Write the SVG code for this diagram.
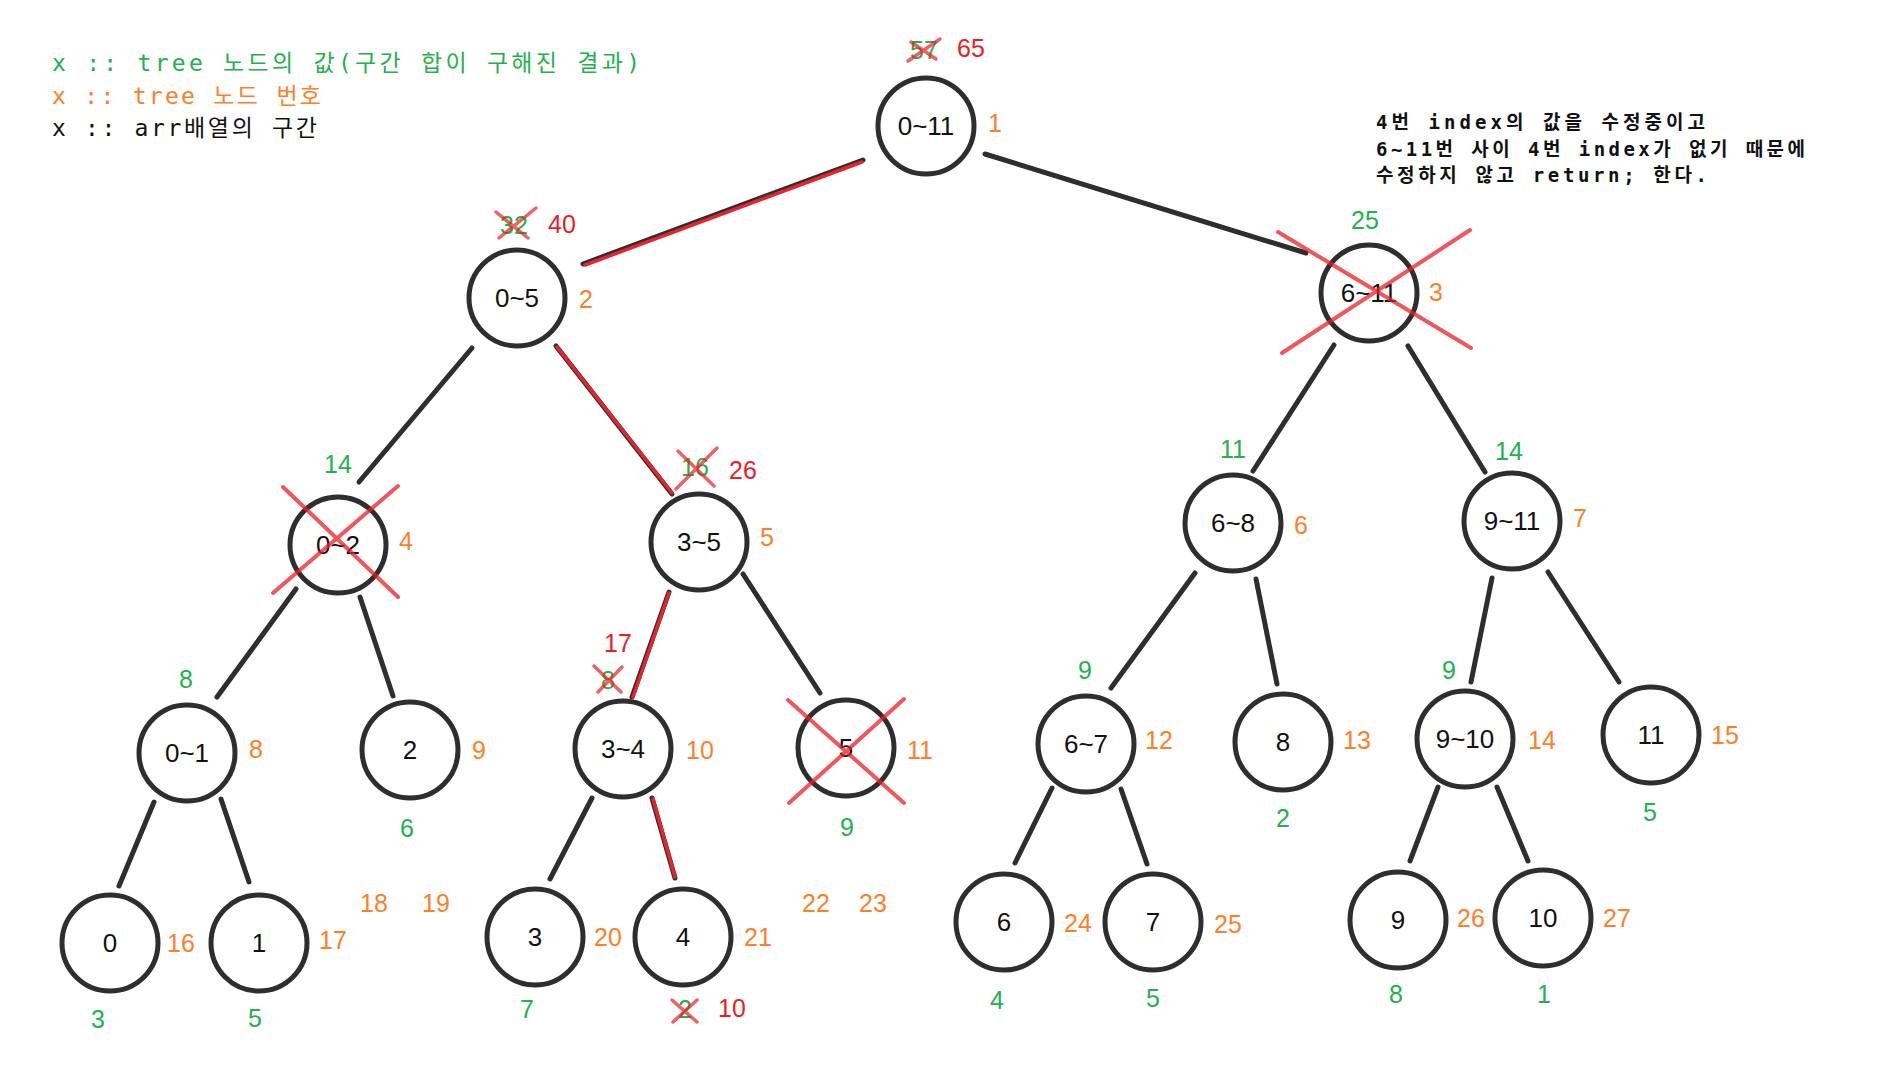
<svg xmlns="http://www.w3.org/2000/svg" width="1884" height="1082" viewBox="0 0 1884 1082">
<style>
  .bg{fill:#ffffff}
  .edge{stroke:#2e2e2e;stroke-width:5;stroke-linecap:round;fill:none}
  .hl{stroke:#e8232c;stroke-width:3.5;stroke-linecap:round;fill:none}
  .circ{fill:#ffffff;stroke:#2e2e2e;stroke-width:5}
  .nt{font-family:"Liberation Sans","Noto Sans CJK KR",sans-serif;font-size:26px;fill:#111;text-anchor:middle}
  .lb{font-family:"Liberation Sans","Noto Sans CJK KR",sans-serif;font-size:25px;text-anchor:middle}
  .g{fill:#22b14c}
  .o{fill:#ff7f27}
  .r{fill:#ed1c24}
  .x{stroke:#ed1c24;stroke-width:4;stroke-opacity:0.75;stroke-linecap:round;fill:none}
  .xs{stroke:#ed1c24;stroke-width:3.5;stroke-opacity:0.7;stroke-linecap:round;fill:none}
  .leg{font-family:"DejaVu Sans Mono","Noto Sans CJK KR",monospace;font-size:23px}
  .note{font-family:"DejaVu Sans Mono","Noto Sans CJK KR",monospace;font-size:19px;font-weight:bold;fill:#111}
</style>
<rect class="bg" x="0" y="0" width="1884" height="1082"/>

<g id="legend">
  <text class="leg g" x="52" y="71" textLength="588" lengthAdjust="spacing">x :: tree 노드의 값(구간 합이 구해진 결과)</text>
  <text class="leg o" x="52" y="104" textLength="269" lengthAdjust="spacing">x :: tree 노드 번호</text>
  <text class="leg" x="52" y="136" fill="#111" textLength="265" lengthAdjust="spacing">x :: arr배열의 구간</text>
</g>

<g id="note">
  <text class="note" x="1376" y="129" textLength="329" lengthAdjust="spacing">4번 index의 값을 수정중이고</text>
  <text class="note" x="1376" y="156" textLength="429" lengthAdjust="spacing">6~11번 사이 4번 index가 없기 때문에</text>
  <text class="note" x="1376" y="182" textLength="331" lengthAdjust="spacing">수정하지 않고 return; 한다.</text>
</g>

<g id="connectors">
  <line class="edge" x1="583" y1="264" x2="863" y2="160"/>
  <line class="hl" x1="585" y1="265" x2="862" y2="162"/>
  <line class="edge" x1="985" y1="154" x2="1306" y2="253"/>
  <line class="edge" x1="472" y1="348" x2="359" y2="482"/>
  <line class="edge" x1="556" y1="346" x2="672" y2="494"/>
  <line class="hl" x1="557" y1="347" x2="672" y2="493"/>
  <line class="edge" x1="1334" y1="345" x2="1253" y2="471"/>
  <line class="edge" x1="1408" y1="346" x2="1485" y2="472"/>
  <line class="edge" x1="296" y1="589" x2="217" y2="697"/>
  <line class="edge" x1="360" y1="597" x2="393" y2="696"/>
  <line class="edge" x1="669" y1="592" x2="632" y2="697"/>
  <line class="hl" x1="669" y1="593" x2="633" y2="697"/>
  <line class="edge" x1="743" y1="574" x2="820" y2="693"/>
  <line class="edge" x1="1195" y1="573" x2="1111" y2="688"/>
  <line class="edge" x1="1256" y1="579" x2="1277" y2="684"/>
  <line class="edge" x1="1492" y1="578" x2="1471" y2="682"/>
  <line class="edge" x1="1548" y1="572" x2="1619" y2="682"/>
  <line class="edge" x1="154" y1="802" x2="119" y2="886"/>
  <line class="edge" x1="221" y1="799" x2="249" y2="882"/>
  <line class="edge" x1="592" y1="798" x2="550" y2="879"/>
  <line class="edge" x1="652" y1="798" x2="675" y2="878"/>
  <line class="hl" x1="653" y1="799" x2="675" y2="877"/>
  <line class="edge" x1="1052" y1="788" x2="1015" y2="863"/>
  <line class="edge" x1="1121" y1="789" x2="1147" y2="864"/>
  <line class="edge" x1="1438" y1="787" x2="1410" y2="861"/>
  <line class="edge" x1="1497" y1="787" x2="1528" y2="861"/>
</g>

<g id="node-1">
  <circle class="circ" cx="926" cy="126" r="48"/>
  <text class="nt" x="926" y="135">0~11</text>
  <text class="lb g" x="924" y="59">57</text>
  <path class="xs" d="M908 61 L940 39 M911 42 L936 59"/>
  <text class="lb r" x="971" y="57">65</text>
  <text class="lb o" x="995" y="132">1</text>
</g>

<g id="node-2">
  <circle class="circ" cx="517" cy="298" r="48"/>
  <text class="nt" x="517" y="307">0~5</text>
  <text class="lb g" x="514" y="234">32</text>
  <path class="xs" d="M496 212 L528 238 M499 238 L536 208"/>
  <text class="lb r" x="562" y="233">40</text>
  <text class="lb o" x="586" y="308">2</text>
</g>

<g id="node-3">
  <circle class="circ" cx="1369" cy="293" r="48"/>
  <text class="nt" x="1369" y="302">6~11</text>
  <path class="x" d="M1278 232 L1471 348 M1282 353 L1470 230"/>
  <text class="lb g" x="1365" y="229">25</text>
  <text class="lb o" x="1436" y="301">3</text>
</g>

<g id="node-4">
  <circle class="circ" cx="338" cy="545" r="48"/>
  <text class="nt" x="338" y="554">0~2</text>
  <path class="x" d="M283 487 L398 597 M273 593 L398 486"/>
  <text class="lb g" x="338" y="473">14</text>
  <text class="lb o" x="406" y="550">4</text>
</g>

<g id="node-5">
  <circle class="circ" cx="699" cy="542" r="48"/>
  <text class="nt" x="699" y="551">3~5</text>
  <text class="lb g" x="695" y="476">16</text>
  <path class="xs" d="M678 451 L714 486 M676 489 L717 448"/>
  <text class="lb r" x="743" y="479">26</text>
  <text class="lb o" x="767" y="546">5</text>
</g>

<g id="node-6">
  <circle class="circ" cx="1233" cy="523" r="48"/>
  <text class="nt" x="1233" y="532">6~8</text>
  <text class="lb g" x="1233" y="458">11</text>
  <text class="lb o" x="1301" y="534">6</text>
</g>

<g id="node-7">
  <circle class="circ" cx="1512" cy="521" r="48"/>
  <text class="nt" x="1512" y="530">9~11</text>
  <text class="lb g" x="1509" y="460">14</text>
  <text class="lb o" x="1580" y="527">7</text>
</g>

<g id="node-8">
  <circle class="circ" cx="187" cy="753" r="48"/>
  <text class="nt" x="187" y="762">0~1</text>
  <text class="lb g" x="186" y="688">8</text>
  <text class="lb o" x="256" y="758">8</text>
</g>

<g id="node-9">
  <circle class="circ" cx="410" cy="750" r="48"/>
  <text class="nt" x="410" y="759">2</text>
  <text class="lb o" x="479" y="759">9</text>
  <text class="lb g" x="407" y="837">6</text>
</g>

<g id="node-10">
  <circle class="circ" cx="623" cy="749" r="48"/>
  <text class="nt" x="623" y="758">3~4</text>
  <text class="lb r" x="618" y="652">17</text>
  <text class="lb g" x="608" y="689">8</text>
  <path class="xs" d="M594 666 L621 692 M598 692 L622 667"/>
  <text class="lb o" x="700" y="759">10</text>
</g>

<g id="node-11">
  <circle class="circ" cx="846" cy="748" r="48"/>
  <text class="nt" x="846" y="757">5</text>
  <path class="x" d="M788 700 L904 803 M789 803 L904 699"/>
  <text class="lb o" x="920" y="759">11</text>
  <text class="lb g" x="847" y="836">9</text>
</g>

<g id="node-12">
  <circle class="circ" cx="1086" cy="744" r="48"/>
  <text class="nt" x="1086" y="753">6~7</text>
  <text class="lb g" x="1085" y="679">9</text>
  <text class="lb o" x="1159" y="749">12</text>
</g>

<g id="node-13">
  <circle class="circ" cx="1283" cy="742" r="48"/>
  <text class="nt" x="1283" y="751">8</text>
  <text class="lb o" x="1357" y="749">13</text>
  <text class="lb g" x="1283" y="827">2</text>
</g>

<g id="node-14">
  <circle class="circ" cx="1465" cy="739" r="48"/>
  <text class="nt" x="1465" y="748">9~10</text>
  <text class="lb g" x="1449" y="679">9</text>
  <text class="lb o" x="1542" y="749">14</text>
</g>

<g id="node-15">
  <circle class="circ" cx="1651" cy="735" r="48"/>
  <text class="nt" x="1651" y="744">11</text>
  <text class="lb o" x="1725" y="744">15</text>
  <text class="lb g" x="1650" y="821">5</text>
</g>

<g id="node-16">
  <circle class="circ" cx="110" cy="943" r="48"/>
  <text class="nt" x="110" y="952">0</text>
  <text class="lb o" x="181" y="952">16</text>
  <text class="lb g" x="98" y="1028">3</text>
</g>

<g id="node-17">
  <circle class="circ" cx="259" cy="943" r="48"/>
  <text class="nt" x="259" y="952">1</text>
  <text class="lb o" x="333" y="949">17</text>
  <text class="lb g" x="255" y="1027">5</text>
</g>

<g id="node-18-19">
  <text class="lb o" x="374" y="912">18</text>
  <text class="lb o" x="436" y="912">19</text>
</g>

<g id="node-20">
  <circle class="circ" cx="535" cy="937" r="48"/>
  <text class="nt" x="535" y="946">3</text>
  <text class="lb o" x="608" y="946">20</text>
  <text class="lb g" x="527" y="1018">7</text>
</g>

<g id="node-21">
  <circle class="circ" cx="683" cy="937" r="48"/>
  <text class="nt" x="683" y="946">4</text>
  <text class="lb o" x="758" y="946">21</text>
  <text class="lb g" x="685" y="1018">2</text>
  <path class="xs" d="M672 1000 L697 1022 M673 1022 L697 1000"/>
  <text class="lb r" x="732" y="1017">10</text>
</g>

<g id="node-22-23">
  <text class="lb o" x="816" y="912">22</text>
  <text class="lb o" x="873" y="912">23</text>
</g>

<g id="node-24">
  <circle class="circ" cx="1004" cy="922" r="48"/>
  <text class="nt" x="1004" y="931">6</text>
  <text class="lb o" x="1078" y="932">24</text>
  <text class="lb g" x="997" y="1009">4</text>
</g>

<g id="node-25">
  <circle class="circ" cx="1153" cy="922" r="48"/>
  <text class="nt" x="1153" y="931">7</text>
  <text class="lb o" x="1228" y="933">25</text>
  <text class="lb g" x="1153" y="1007">5</text>
</g>

<g id="node-26">
  <circle class="circ" cx="1398" cy="920" r="48"/>
  <text class="nt" x="1398" y="929">9</text>
  <text class="lb o" x="1471" y="927">26</text>
  <text class="lb g" x="1396" y="1003">8</text>
</g>

<g id="node-27">
  <circle class="circ" cx="1543" cy="918" r="48"/>
  <text class="nt" x="1543" y="927">10</text>
  <text class="lb o" x="1617" y="927">27</text>
  <text class="lb g" x="1544" y="1003">1</text>
</g>
</svg>
